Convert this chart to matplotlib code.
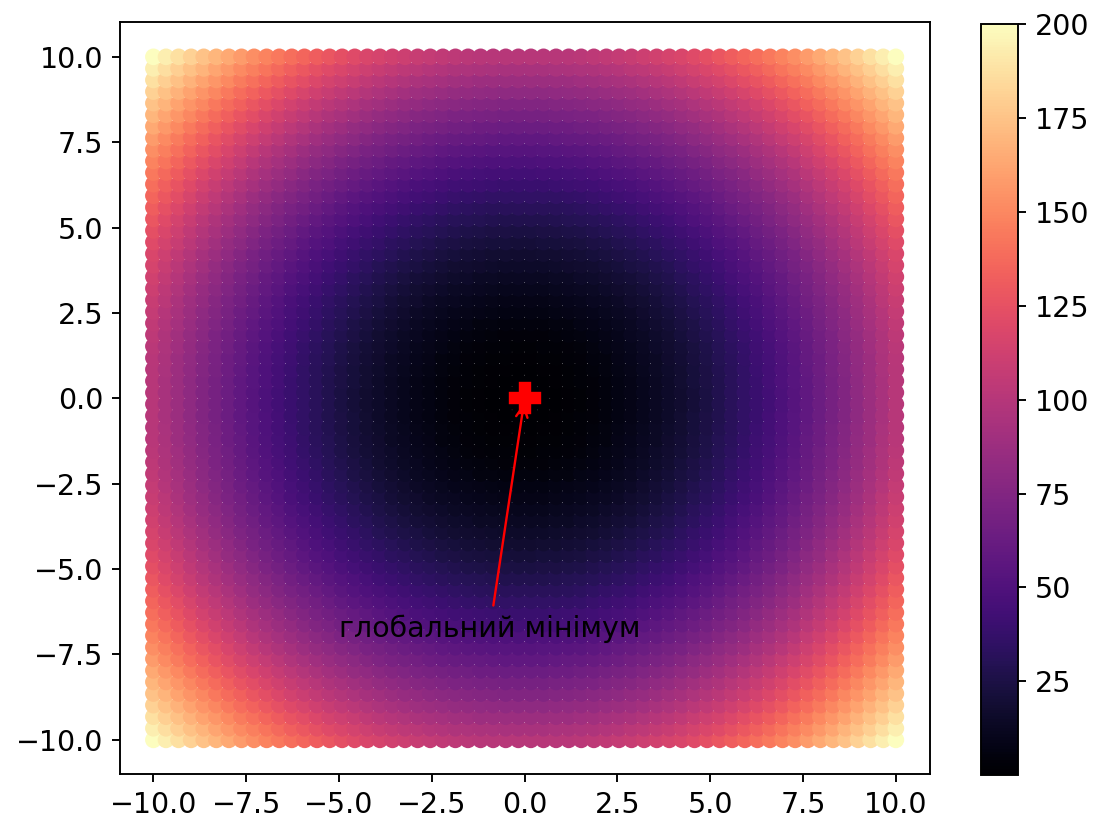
import matplotlib

matplotlib.use("Agg")
import matplotlib.pyplot as plt
import numpy as np

# grid of sample points and the sphere function value at each point
x_values = np.linspace(-10.0, 10.0, 60)
y_values = np.linspace(-10.0, 10.0, 60)
min_point = (0.0, 0.0)
label_text = "глобальний мінімум"
label_pos = (-5.0, -7.0)

X, Y = np.meshgrid(x_values, y_values)
Z = X ** 2 + Y ** 2

plt.rcParams["font.size"] = 12

dpi = 171.25
fig = plt.figure(figsize=(1096 / dpi, 823 / dpi), dpi=dpi)
ax = fig.add_axes([120 / 1096, 1 - 774 / 823, 810 / 1096, 752 / 823])
cax = fig.add_axes([981 / 1096, 1 - 775 / 823, 37 / 1096, 751 / 823])

sc = ax.scatter(X.ravel(), Y.ravel(), c=Z.ravel(), cmap="magma")
ax.annotate(label_text, xy=min_point, xytext=label_pos, fontsize=12,
            arrowprops=dict(arrowstyle="->", color="red"))
ax.plot(*min_point, "P", color="red", markersize=13, zorder=5)
ax.set_xlim(-10.9, 10.92)
ax.set_ylim(-11.0, 11.02)
fig.colorbar(sc, cax=cax)

fig.savefig("out.png", dpi=dpi)
